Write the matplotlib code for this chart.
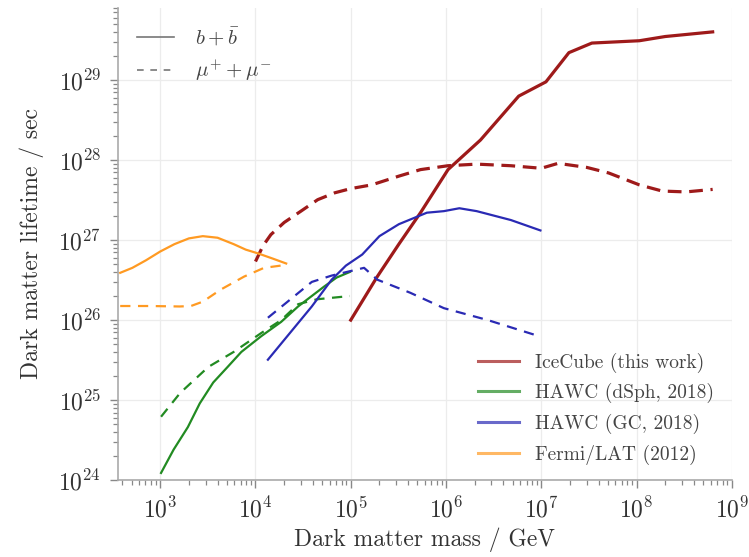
import matplotlib
matplotlib.use("Agg")
import matplotlib.pyplot as plt
from matplotlib.lines import Line2D
from matplotlib.ticker import LogLocator, NullFormatter, FixedLocator

plt.rcParams['font.family'] = 'serif'
plt.rcParams['font.serif'] = ['cmr10']
plt.rcParams['mathtext.fontset'] = 'cm'
plt.rcParams['axes.formatter.use_mathtext'] = True

# IceCube (this work)
ic_bb_m = [1.0e5, 1.9e5, 3.2e5, 5.4e5, 1.05e6, 2.3e6, 5.8e6, 1.12e7, 1.95e7, 3.4e7, 1.07e8, 2.0e8, 6.3e8]
ic_bb_t = [1.0e26, 3.5e26, 8.9e26, 2.2e27, 7.6e27, 1.78e28, 6.3e28, 9.5e28, 2.2e29, 2.9e29, 3.1e29, 3.5e29, 4.0e29]
ic_mu_m = [1.0e4, 1.2e4, 1.45e4, 2.0e4, 3.0e4, 4.5e4, 6.8e4, 1.0e5, 1.66e5, 3.2e5, 5.4e5, 1.05e6, 2.1e6,
           4.8e6, 1.0e7, 1.5e7, 3.0e7, 5.1e7, 1.07e8, 1.86e8, 3.3e8, 6.3e8]
ic_mu_t = [5.4e26, 8.5e26, 1.17e27, 1.66e27, 2.3e27, 3.2e27, 3.9e27, 4.4e27, 4.9e27, 6.3e27, 7.6e27, 8.5e27, 8.9e27,
           8.5e27, 7.9e27, 9.1e27, 8.1e27, 6.9e27, 4.9e27, 4.1e27, 4.0e27, 4.3e27]

# HAWC (dSph, 2018)
hd_bb_m = [1.02e3, 1.38e3, 1.95e3, 2.6e3, 3.6e3, 5.1e3, 7.1e3, 1.15e4, 1.86e4, 2.8e4, 5.2e4, 7.1e4, 9.8e4]
hd_bb_t = [1.23e24, 2.4e24, 4.6e24, 9.1e24, 1.66e25, 2.6e25, 4.0e25, 6.3e25, 9.5e25, 1.48e26, 2.6e26, 3.4e26, 4.0e26]
hd_mu_m = [1.02e3, 1.62e3, 3.2e3, 5.9e3, 1.15e4, 1.86e4, 2.8e4, 4.4e4, 9.8e4]
hd_mu_t = [6.2e24, 1.23e25, 2.6e25, 4.0e25, 6.9e25, 1.0e26, 1.58e26, 1.82e26, 2.0e26]

# HAWC (GC, 2018)
hg_bb_m = [1.35e4, 3.9e4, 6.3e4, 8.9e4, 1.32e5, 2.0e5, 3.2e5, 6.3e5, 9.5e5, 1.38e6, 2.1e6, 4.8e6, 9.8e6]
hg_bb_t = [3.2e25, 1.48e26, 3.2e26, 4.8e26, 6.6e26, 1.12e27, 1.58e27, 2.2e27, 2.3e27, 2.5e27, 2.3e27, 1.78e27, 1.32e27]
hg_mu_m = [1.35e4, 3.9e4, 6.3e4, 1.38e5, 1.9e5, 4.2e5, 9.5e5, 2.75e6, 8.7e6]
hg_mu_t = [1.07e26, 3.0e26, 3.6e26, 4.5e26, 3.2e26, 2.2e26, 1.41e26, 1.0e26, 6.5e25]

# Fermi/LAT (2012)
fl_bb_m = [3.8e2, 5.1e2, 7.1e2, 1.0e3, 1.41e3, 2.0e3, 2.8e3, 4.0e3, 5.9e3, 7.9e3, 1.07e4, 1.5e4, 2.1e4]
fl_bb_t = [3.9e26, 4.5e26, 5.6e26, 7.2e26, 8.9e26, 1.05e27, 1.12e27, 1.07e27, 8.9e26, 7.6e26, 6.8e26, 5.9e26, 5.1e26]
fl_mu_m = [3.8e2, 7.8e2, 1.6e3, 2.1e3, 2.8e3, 4.3e3, 7.6e3, 1.23e4, 2.1e4]
fl_mu_t = [1.5e26, 1.5e26, 1.48e26, 1.5e26, 1.7e26, 2.4e26, 3.5e26, 4.5e26, 4.9e26]

x_ticks = [1e3, 1e4, 1e5, 1e6, 1e7, 1e8, 1e9]
y_ticks = [1e24, 1e25, 1e26, 1e27, 1e28, 1e29]

labels = ['IceCube (this work)', 'HAWC (dSph, 2018)', 'HAWC (GC, 2018)', 'Fermi/LAT (2012)']
colors = ['#9e1a1a', '#228b22', '#2a2ab4', '#ff9a22']

fig = plt.figure(figsize=(7.49, 5.57), dpi=100)
ax = fig.add_axes([0.1575, 0.138, 0.8195, 0.848])

series = [
    (ic_bb_m, ic_bb_t, ic_mu_m, ic_mu_t, 2.3, (0, (4.3, 2.4))),
    (hd_bb_m, hd_bb_t, hd_mu_m, hd_mu_t, 1.6, (0, (4.6, 3.4))),
    (hg_bb_m, hg_bb_t, hg_mu_m, hg_mu_t, 1.6, (0, (4.6, 3.4))),
    (fl_bb_m, fl_bb_t, fl_mu_m, fl_mu_t, 1.6, (0, (4.6, 3.4))),
]
for (bm, bt, mm, mt, lw, dash), c in zip(series, colors):
    ax.plot(bm, bt, color=c, lw=lw, ls='-', solid_joinstyle='round')
    ax.plot(mm, mt, color=c, lw=lw, ls=dash, dash_joinstyle='round')

ax.set_xscale('log')
ax.set_yscale('log')
ax.set_xlim(3.6e2, 1e9)
ax.set_ylim(1e24, 8e29)
ax.xaxis.set_major_locator(FixedLocator(x_ticks))
ax.yaxis.set_major_locator(FixedLocator(y_ticks))
ax.xaxis.set_minor_locator(LogLocator(base=10, subs=range(2, 10), numticks=50))
ax.yaxis.set_minor_locator(LogLocator(base=10, subs=range(2, 10), numticks=50))
ax.xaxis.set_minor_formatter(NullFormatter())
ax.yaxis.set_minor_formatter(NullFormatter())

ax.grid(True, which='major', color='#ececec', lw=0.9)
ax.set_axisbelow(True)
for s in ['top', 'right']:
    ax.spines[s].set_visible(False)
for s in ['left', 'bottom']:
    ax.spines[s].set_color('#aaaaaa')
    ax.spines[s].set_linewidth(1.2)
ax.tick_params(which='major', length=6, width=1.0, color='#888888', labelsize=17, labelcolor='#333333', pad=6)
ax.tick_params(which='minor', length=3.5, width=0.9, color='#888888')

ax.set_xlabel('Dark matter mass / GeV', fontsize=17, color='#333333', labelpad=4)
ax.set_ylabel('Dark matter lifetime / sec', fontsize=17, color='#333333', labelpad=10)

h1 = [Line2D([], [], color='#777777', lw=1.2, ls='-'),
      Line2D([], [], color='#777777', lw=1.2, ls=(0, (4, 4)))]
leg1 = ax.legend(h1, [r'$b+\bar{b}$', r'$\mu^{+}+\mu^{-}$'], loc='upper left', frameon=False,
                 fontsize=15, handlelength=1.8, handletextpad=1.0, labelspacing=0.45,
                 bbox_to_anchor=(0.0, 1.0), labelcolor='#444444')
ax.add_artist(leg1)

h2 = [Line2D([], [], color=c, lw=2.2, alpha=0.7) for c in colors]
ax.legend(h2, labels, loc='lower right', frameon=False, fontsize=14, handlelength=2.1,
          handletextpad=0.85, labelspacing=0.55, bbox_to_anchor=(1.0, -0.005), labelcolor='#444444')

fig.savefig('out.png', dpi=100)
